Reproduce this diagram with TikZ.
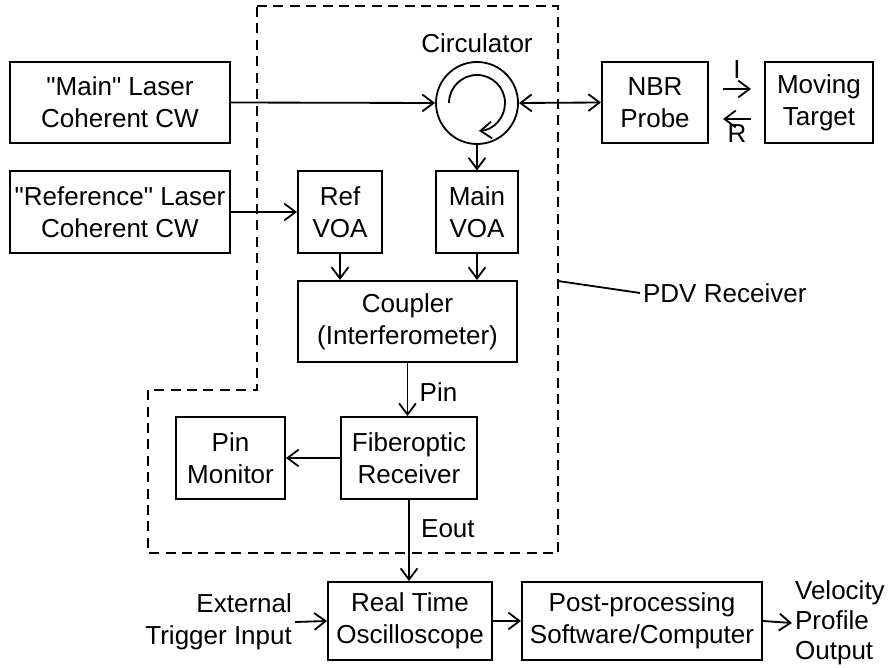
\documentclass[tikz,border=0pt]{standalone}
\usepackage{fontspec}
\setmainfont{Liberation Sans}[Ligatures=TeXOff]
\usepackage{tikz}
\usetikzlibrary{arrows.meta,calc}
\newcommand{\txtsz}{\fontsize{18.5}{22.5}\selectfont}
\tikzset{
  >={Straight Barb[length=2.8mm,width=4.2mm]},
  blk/.style={draw,line width=1.3pt,minimum height=2.03cm,align=center,inner sep=0pt,font=\txtsz},
  lbl/.style={align=center,inner sep=2pt,font=\txtsz},
  conn/.style={line width=1.3pt,->},
  pdvline/.style={line width=1.3pt,dash pattern=on 0.25cm off 0.16cm},
}

\begin{document}
\begin{tikzpicture}[x=0.025cm,y=-0.025cm]
    \useasboundingbox (0,0) rectangle (889,668);

    % PDV receiver outline
    \draw[pdvline] (257,6) -- (558,6) -- (558,553) -- (148,553) -- (148,390) -- (257,390) -- cycle;

    \node[blk,minimum width=5.5cm] (mainlaser) at (120,102.5) {"Main" Laser\\Coherent CW};
    \node[draw,circle,line width=1.3pt,minimum size=2.05cm] (circ) at (477,103) {};
    \node[lbl] (circlbl) at (477,43) {Circulator};
    \node[blk,minimum width=2.65cm] (nbr) at (655,102.5) {NBR\\Probe};
    \node[blk,minimum width=2.7cm] (target) at (819,102.5) {Moving\\Target};

    \node[blk,minimum width=5.5cm] (reflaser) at (120,212) {"Reference" Laser\\Coherent CW};
    \node[blk,minimum width=2.1cm] (refvoa) at (340,212) {Ref\\VOA};
    \node[blk,minimum width=2.05cm] (mainvoa) at (477,212) {Main\\VOA};
    \node[blk,minimum width=5.475cm] (coupler) at (407.5,321.5) {Coupler\\(Interferometer)};
    \node[lbl,anchor=west] (pdv) at (640,293) {PDV Receiver};

    \node[blk,minimum width=2.725cm,minimum height=2.05cm] (pinmon) at (230.5,458) {Pin\\Monitor};
    \node[blk,minimum width=3.4cm,minimum height=2.05cm] (fiber) at (409,458) {Fiberoptic\\Receiver};

    \node[blk,minimum width=4.1cm,minimum height=1.95cm] (rto) at (410,621) {Real Time\\Oscilloscope};
    \node[blk,minimum width=6cm,minimum height=1.95cm] (post) at (642,621) {Post-processing\\Software/Computer};
    \node[lbl,anchor=east,align=right] (trig) at (295,622) {External\\Trigger Input};
    \node[lbl,anchor=west,align=left,font=\fontsize{18.5}{21.5}\selectfont] (vel) at (792,623) {Velocity\\Profile\\Output};

    % circulator
    \draw[conn] ([shift={(180:0.7cm)}]circ.center) arc[start angle=180,end angle=-86,radius=0.7cm];
    \draw[conn] (mainlaser.east) -- (circ.west);
    \draw[conn,<->] (circ.east) -- (nbr.west);
    \draw[conn] (circ.south) -- (mainvoa.north);

    % incident / return
    \coordinate (ia) at (723,89);
    \coordinate (ib) at (751,89);
    \coordinate (ra) at (751,119);
    \coordinate (rb) at (723,119);
    \draw[conn] (ia) -- (ib) node[lbl,midway,above=5pt] (ilbl) {I};
    \draw[conn] (ra) -- (rb) node[lbl,midway,below=1pt] (rlbl) {R};

    \draw[conn] (reflaser.east) -- (refvoa.west);
    \draw[conn] (refvoa.south) -- (refvoa.south |- coupler.north);
    \draw[conn] (mainvoa.south) -- (mainvoa.south |- coupler.north);
    \coordinate (pdvtap) at (558,281);
    \draw[line width=1.3pt] (pdvtap) -- (pdv.west);

    \draw[conn] (coupler.south) -- (coupler.south |- fiber.north) node[lbl,pos=0.55,right=6pt] (pinlbl) {Pin};
    \draw[conn] (fiber.west) -- (pinmon.east);
    \draw[conn] (fiber.south) -- (fiber.south |- rto.north) node[lbl,pos=0.35,right=6pt] (eoutlbl) {Eout};

    \draw[conn] (trig.east) -- (rto.west);
    \draw[conn] (rto.east) -- (post.west);
    \draw[conn] (post.east) -- (vel.west);
\end{tikzpicture}
\end{document}
